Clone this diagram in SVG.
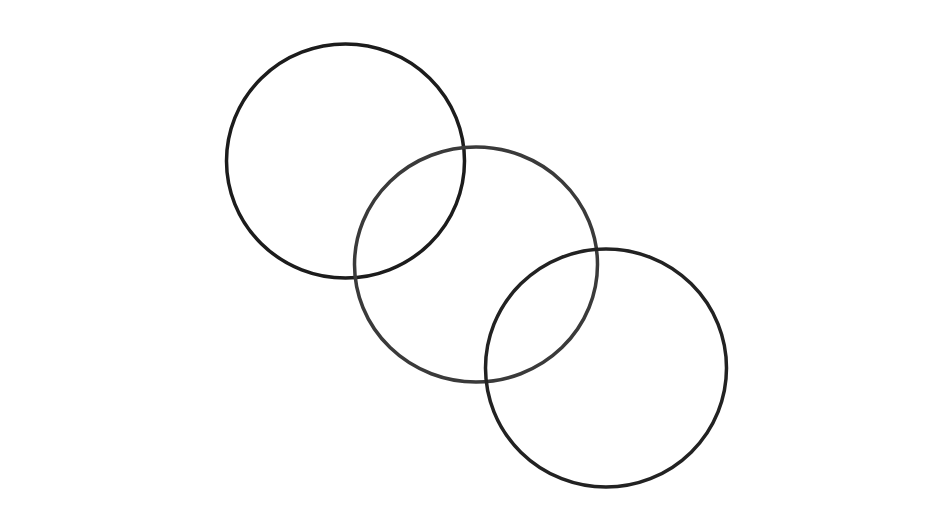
<svg xmlns="http://www.w3.org/2000/svg" width="952" height="531" viewBox="0 0 952 531">
<style>
.c{fill:none;stroke-width:3.5}
</style>
<rect width="952" height="531" fill="#fff"/>
<g id="circle1"><ellipse class="c" cx="345.5" cy="161" rx="119" ry="117" stroke="#1c1c1c"/></g>
<g id="circle2"><ellipse class="c" cx="476" cy="264.5" rx="121.5" ry="117.5" stroke="#3a3a3a"/></g>
<g id="circle3"><ellipse class="c" cx="606" cy="368" rx="120.5" ry="119" stroke="#222"/></g>
</svg>
